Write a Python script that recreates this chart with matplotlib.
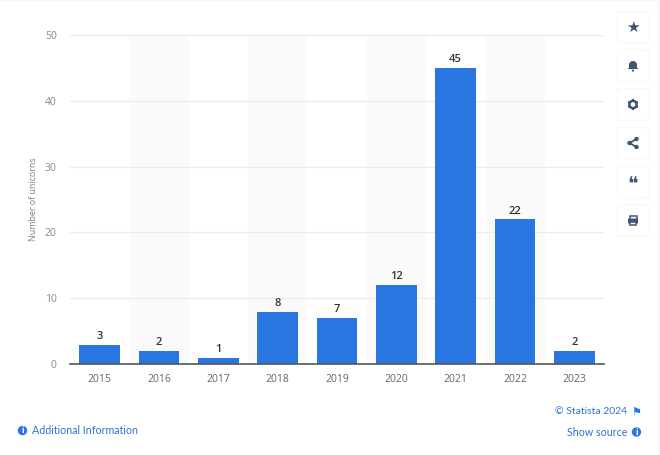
import matplotlib
matplotlib.use("Agg")
import matplotlib.pyplot as plt
from matplotlib.patches import Circle, FancyBboxPatch, Rectangle, Wedge

years = ["2015", "2016", "2017", "2018", "2019", "2020", "2021", "2022", "2023"]
unicorns = [3, 2, 1, 8, 7, 12, 45, 22, 2]
y_ticks = [0, 10, 20, 30, 40, 50]

W, H = 660, 455
BLUE = "#2976e0"
LINK = "#2f70d0"
ICON = "#3f5573"

plt.rcParams["font.family"] = ["Open Sans", "DejaVu Sans"]

fig = plt.figure(figsize=(W / 100, H / 100), dpi=100, facecolor="white")

# chart area, placed in pixels
ax = fig.add_axes([70 / W, 1 - 364.3 / H, 534 / W, 329.5 / H])
positions = list(range(len(years)))
for i in positions:
    if i % 2 == 1:
        ax.axvspan(i - 0.5, i + 0.5, color="#fafafa", lw=0, zorder=0)
ax.bar(positions, unicorns, width=0.69, color=BLUE, zorder=3)
for i, v in zip(positions, unicorns):
    ax.annotate(str(v), (i, v), xytext=(0, 2), textcoords="offset points",
                ha="center", va="bottom", fontsize=8, fontweight="semibold",
                color="#333333", zorder=4)

ax.set_xlim(-0.5, len(years) - 0.5)
ax.set_ylim(0, 50)
ax.set_xticks(positions)
ax.set_xticklabels(years, fontsize=7.5, color="#666666")
ax.set_yticks(y_ticks)
ax.set_yticklabels([str(t) for t in y_ticks], fontsize=7.5, color="#888888")
ax.tick_params(axis="both", length=0)
ax.tick_params(axis="x", pad=7)
ax.tick_params(axis="y", pad=9.5)
ax.grid(axis="y", color="#ebebeb", lw=0.8, zorder=1)
ax.set_axisbelow(False)
for line in ax.get_ygridlines():
    line.set_zorder(1)
for name in ["top", "right", "left"]:
    ax.spines[name].set_visible(False)
ax.spines["bottom"].set_color("#555555")
ax.spines["bottom"].set_linewidth(1.2)
ax.spines["bottom"].set_zorder(5)
ax.set_ylabel("Number of unicorns", fontsize=6.4, color="#808080")
ax.yaxis.set_label_coords(-31.5 / 534, 0.5)

# page overlay in pixel coordinates: footer links and side buttons
page = fig.add_axes([0, 0, 1, 1], facecolor="none")
page.set_xlim(0, W)
page.set_ylim(H, 0)
page.axis("off")


def info_icon(x, y):
    page.add_patch(Circle((x, y), 4.7, color=BLUE, lw=0))
    page.text(x, y + 0.2, "i", fontsize=6.5, fontweight="bold", color="white",
              ha="center", va="center")


page.text(32, 430.5, "Additional Information", fontsize=7.7, color=LINK, va="center", family="Lato")
info_icon(22.5, 430.5)
page.text(627, 412, "© Statista 2024", fontsize=7.5, color=LINK, va="center", ha="right", family="Lato")
page.text(636, 412, "\u2691", fontsize=8, color=BLUE, va="center", ha="center",
          family="DejaVu Sans")
page.text(627, 432.5, "Show source", fontsize=7.7, color=LINK, va="center", ha="right", family="Lato")
info_icon(636.5, 432)

page.plot([0, W], [0.3, 0.3], color="#f4f4f4", lw=1)
page.plot([658.5, 658.5], [0, H], color="#f6f6f6", lw=1.5)

centers = [27.5, 66, 104.5, 143, 182, 220.5]
for cy in centers:
    page.add_patch(FancyBboxPatch((616.5, cy - 16.5), 33, 33, boxstyle="round,pad=0,rounding_size=3",
                                  fc="#fafafb", ec="none", zorder=1))
    page.add_patch(FancyBboxPatch((618, cy - 15), 30, 30, boxstyle="round,pad=0,rounding_size=2.5",
                                  fc="white", ec="none", zorder=2))

cx = 633
# star
page.text(cx, centers[0], "\u2605", fontsize=11, color=ICON, ha="center", va="center",
          family="DejaVu Sans", zorder=3)
# bell
cy = centers[1]
page.add_patch(Wedge((cx, cy - 1), 4, 0, 360, color=ICON, lw=0, zorder=3))
page.add_patch(Rectangle((cx - 4, cy - 1), 8, 3.2, color=ICON, lw=0, zorder=3))
page.add_patch(Rectangle((cx - 5, cy + 1.8), 10, 1.6, color=ICON, lw=0, zorder=3))
page.add_patch(Circle((cx, cy + 4.6), 1.1, color=ICON, lw=0, zorder=3))
# gear
cy = centers[2]
page.add_patch(Circle((cx, cy), 3.6, fc="none", ec=ICON, lw=1.8, zorder=3))
for dx, dy in [(0, -4.6), (0, 4.6), (4, -2.3), (-4, -2.3), (4, 2.3), (-4, 2.3)]:
    page.add_patch(Circle((cx + dx, cy + dy), 1.1, color=ICON, lw=0, zorder=3))
page.add_patch(Circle((cx, cy), 1.9, color="white", lw=0, zorder=4))
# share
cy = centers[3]
page.plot([cx + 3.5, cx - 3.5, cx + 3.5], [cy - 4, cy, cy + 4], color=ICON, lw=1.3, zorder=3)
for dx, dy in [(3.5, -4), (-3.5, 0), (3.5, 4)]:
    page.add_patch(Circle((cx + dx, cy + dy), 2.2, color=ICON, lw=0, zorder=3))
# quote
page.text(cx, centers[4] + 3, "\u275d", fontsize=14, color=ICON, ha="center", va="center",
          family="DejaVu Sans", zorder=3)
# printer
cy = centers[5]
page.add_patch(Rectangle((cx - 3.5, cy - 5), 7, 4, fc="white", ec=ICON, lw=1.1, zorder=3))
page.add_patch(FancyBboxPatch((cx - 5, cy - 2), 10, 5, boxstyle="round,pad=0,rounding_size=1",
                              fc=ICON, ec="none", zorder=4))
page.add_patch(Rectangle((cx - 3.2, cy + 1), 6.4, 3.6, fc="white", ec=ICON, lw=1.1, zorder=5))

fig.savefig("out.png", dpi=100)
